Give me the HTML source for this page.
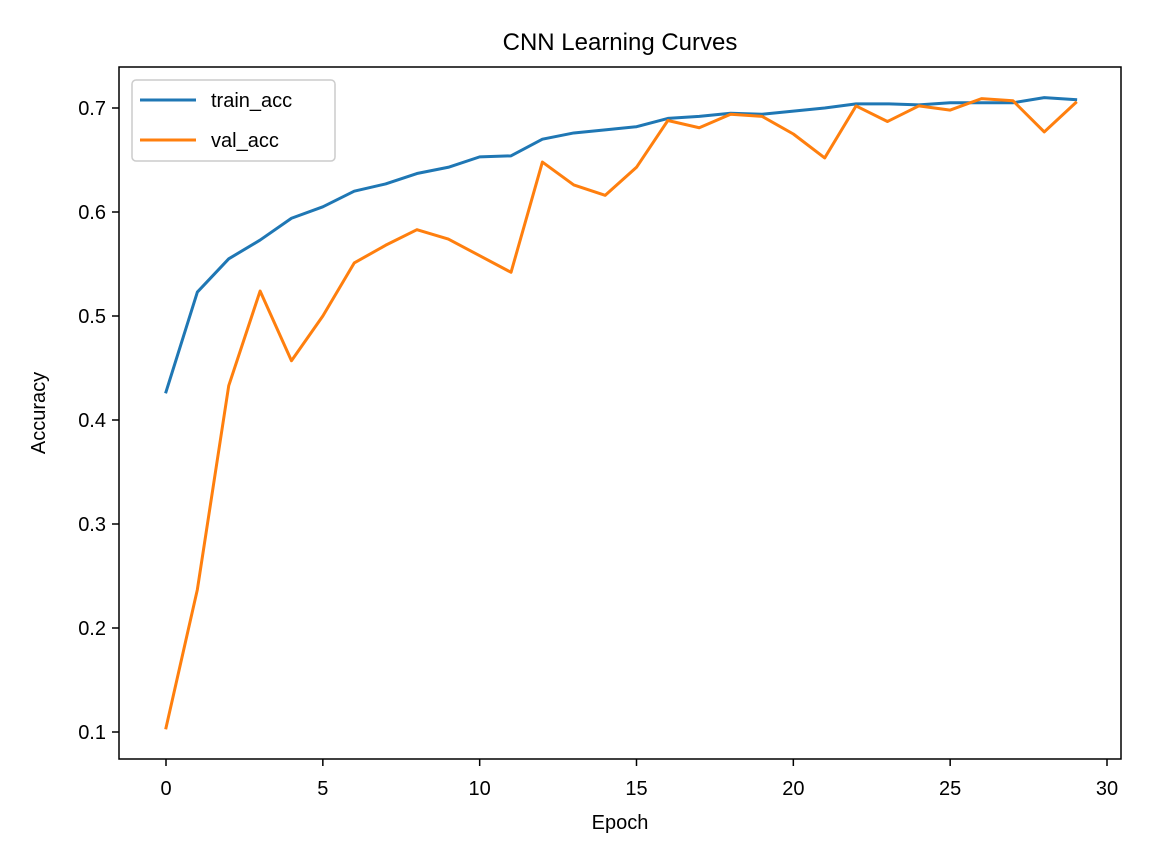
<!DOCTYPE html>
<html><head><meta charset="utf-8"><style>
html,body{margin:0;padding:0;background:#fff;}
svg{display:block;font-family:"Liberation Sans","DejaVu Sans",sans-serif;}
</style></head><body>
<svg id="chart" width="1152" height="864" viewBox="0 0 1152 864">
<rect width="1152" height="864" fill="#fff"/>
<text x="620" y="50" text-anchor="middle" font-size="24" fill="#000">CNN Learning Curves</text>
<g id="xticks"></g>
<g id="yticks"></g>
<g id="series"></g>
<rect x="119" y="67" width="1002" height="692" fill="none" stroke="#000" stroke-width="1.5"/>
<text x="620" y="829" text-anchor="middle" font-size="20">Epoch</text>
<text transform="translate(45,413) rotate(-90)" text-anchor="middle" font-size="20">Accuracy</text>
<g>
<rect x="132" y="80" width="203" height="81" rx="4" fill="#fff" stroke="#ccc" stroke-width="1.5"/>
<line x1="140" y1="100" x2="196" y2="100" stroke="#1f77b4" stroke-width="3"/>
<text x="211" y="107" font-size="20">train_acc</text>
<line x1="140" y1="140" x2="196" y2="140" stroke="#ff7f0e" stroke-width="3"/>
<text x="211" y="147" font-size="20">val_acc</text>
</g>
</svg>
<script>
const epochs = Array.from({length:30},(_,i)=>i);
const trainAcc = [0.427,0.523,0.555,0.573,0.594,0.605,0.620,0.627,0.637,0.643,0.653,0.654,0.670,0.676,0.679,0.682,0.690,0.692,0.695,0.694,0.697,0.700,0.704,0.704,0.703,0.705,0.705,0.705,0.710,0.708];
const valAcc = [0.104,0.237,0.433,0.524,0.457,0.500,0.551,0.568,0.583,0.574,0.558,0.542,0.648,0.626,0.616,0.643,0.688,0.681,0.694,0.692,0.675,0.652,0.702,0.687,0.702,0.698,0.709,0.707,0.677,0.705];
const xTicks = [0,5,10,15,20,25,30];
const yTicks = [0.1,0.2,0.3,0.4,0.5,0.6,0.7];
const NS="http://www.w3.org/2000/svg";
const xs = v => 166 + (v/30)*(1107-166);
const ys = v => 732 - (v-0.1)/0.6*(732-108);
const xg=document.getElementById('xticks'), yg=document.getElementById('yticks'), sg=document.getElementById('series');
function mk(tag,attrs){const e=document.createElementNS(NS,tag);for(const k in attrs)e.setAttribute(k,attrs[k]);return e;}
xTicks.forEach(t=>{
  const l=mk('line',{x1:xs(t),x2:xs(t),y1:759,y2:766,stroke:'#000','stroke-width':1.5});
  
  
  xg.appendChild(l);
  const tx=mk('text',{x:xs(t),y:795,'text-anchor':'middle','font-size':20});
  tx.textContent=t;
  
  
  xg.appendChild(tx);
});
yTicks.forEach(t=>{
  const l=mk('line',{x1:112,x2:119,y1:ys(t),y2:ys(t),stroke:'#000','stroke-width':1.5});
  
  
  yg.appendChild(l);
  const tx=mk('text',{x:106,y:ys(t)+7,'text-anchor':'end','font-size':20});
  tx.textContent=t.toFixed(1);
  
  
  yg.appendChild(tx);
});
function line(data,color,name){
  const p=mk('polyline',{points:data.map((v,i)=>xs(epochs[i])+','+ys(v)).join(' '),fill:'none',stroke:color,'stroke-width':3,'stroke-linejoin':'round','stroke-linecap':'square'});
  
  
  sg.appendChild(p);
}
line(trainAcc,'#1f77b4','train-acc-line');
line(valAcc,'#ff7f0e','val-acc-line');
</script>
</body></html>
